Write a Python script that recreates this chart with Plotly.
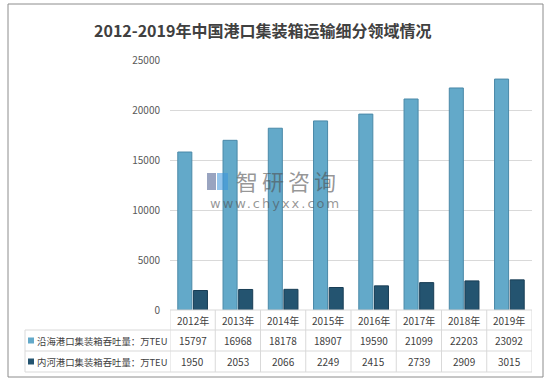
import plotly.graph_objects as go

years = ["2012年", "2013年", "2014年", "2015年", "2016年", "2017年", "2018年", "2019年"]
coastal = [15797, 16968, 18178, 18907, 19590, 21099, 22203, 23092]
inland = [1950, 2053, 2066, 2249, 2415, 2739, 2909, 3015]
series_names = ["沿海港口集装箱吞吐量：万TEU", "内河港口集装箱吞吐量：万TEU"]
title = "2012-2019年中国港口集装箱运输细分领域情况"

W, H = 549, 384
L, R, T, B = 170, 17, 60, 74
pw, ph = W - L - R, H - T - B

def px(x):
    return (x - L) / pw

def py(y):
    return (H - B - y) / ph

c1, c1l = "#63a9c9", "#4a89a8"
c2, c2l = "#245470", "#183d55"
grid = "#d9d9d9"
txt = "#404040"
font_num = "Liberation Sans Narrow, Arial Narrow, Noto Sans CJK SC, sans-serif"

fig = go.Figure()
fig.add_bar(x=years, y=coastal, name=series_names[0],
            marker=dict(color=c1, line=dict(color=c1l, width=1)))
fig.add_bar(x=years, y=inland, name=series_names[1],
            marker=dict(color=c2, line=dict(color=c2l, width=1)))

shapes = []
anns = []
row_lines = [310, 330, 351, 372]
for i, yl in enumerate(row_lines):
    shapes.append(dict(type="line", xref="x", yref="paper", x0=-0.5, x1=len(years) - 0.5,
                       y0=py(yl), y1=py(yl), line=dict(color=grid, width=1)))
    if i >= 1:
        shapes.append(dict(type="line", xref="paper", yref="paper", x0=px(25), x1=0,
                           y0=py(yl), y1=py(yl), line=dict(color=grid, width=1)))
for k in range(len(years) + 1):
    shapes.append(dict(type="line", xref="x", yref="paper", x0=k - 0.5, x1=k - 0.5,
                       y0=py(310), y1=py(372), line=dict(color=grid, width=1)))
shapes.append(dict(type="line", xref="paper", yref="paper", x0=px(25), x1=px(25),
                   y0=py(330), y1=py(372), line=dict(color=grid, width=1)))
shapes.append(dict(type="rect", xref="paper", yref="paper", x0=px(8), x1=px(543),
                   y0=py(377), y1=py(4), line=dict(color="#8c8c8c", width=1)))
for yc, col in [(340.5, c1), (361.5, c2)]:
    shapes.append(dict(type="rect", xref="paper", yref="paper", x0=px(28), x1=px(34),
                       y0=py(yc + 3), y1=py(yc - 3), fillcolor=col, line=dict(width=0)))
shapes.append(dict(type="rect", xref="paper", yref="paper", x0=px(207), x1=px(216),
                   y0=py(190), y1=py(173), fillcolor="rgba(70,90,140,0.55)", line=dict(width=0)))
shapes.append(dict(type="rect", xref="paper", yref="paper", x0=px(217), x1=px(228),
                   y0=py(190), y1=py(173), fillcolor="rgba(60,150,220,0.55)", line=dict(width=0)))

def ann(x, y, text, size, color=txt, family=font_num, xref="paper", xanchor="center"):
    anns.append(dict(x=x, y=y, xref=xref, yref="paper", text=text, showarrow=False,
                     xanchor=xanchor, yanchor="middle",
                     font=dict(size=size, color=color, family=family)))

for yr, a, b in zip(years, coastal, inland):
    ann(yr, py(320), yr, 10, xref="x")
    ann(yr, py(340.5), str(a), 10, xref="x")
    ann(yr, py(361.5), str(b), 10, xref="x")
for yc, name in [(340.5, series_names[0]), (361.5, series_names[1])]:
    ann(px(35), py(yc), name, 9.4, xanchor="left")
ann(px(288), py(180), "<span style='letter-spacing:4px'>智研咨询</span>", 22,
    color="rgba(80,80,80,0.6)", family="Noto Sans CJK SC")
ann(px(275), py(203), "<span style='letter-spacing:2px'>www.chyxx.com</span>", 13,
    color="rgba(80,80,80,0.6)", family="DejaVu Sans")
ann(px(262), py(30), "<b>" + title + "</b>", 16, family="Noto Sans CJK SC")

fig.update_layout(
    width=W, height=H, margin=dict(l=L, r=R, t=T, b=B),
    paper_bgcolor="white", plot_bgcolor="white",
    showlegend=False, barmode="group", bargap=0.31, bargroupgap=0.1,
    xaxis=dict(showticklabels=False, showgrid=False, showline=False, zeroline=False,
               range=[-0.5, len(years) - 0.5]),
    yaxis=dict(range=[0, 25000], dtick=5000, tickformat="d", showgrid=True, gridcolor=grid,
               gridwidth=1, zeroline=False, showline=False, ticks="", ticklabelstandoff=9,
               tickfont=dict(size=10, color="#595959", family=font_num)),
    shapes=shapes, annotations=anns,
)
fig.write_html("out.html", config={"displayModeBar": False},
               post_script="document.body.style.margin='0px';")
